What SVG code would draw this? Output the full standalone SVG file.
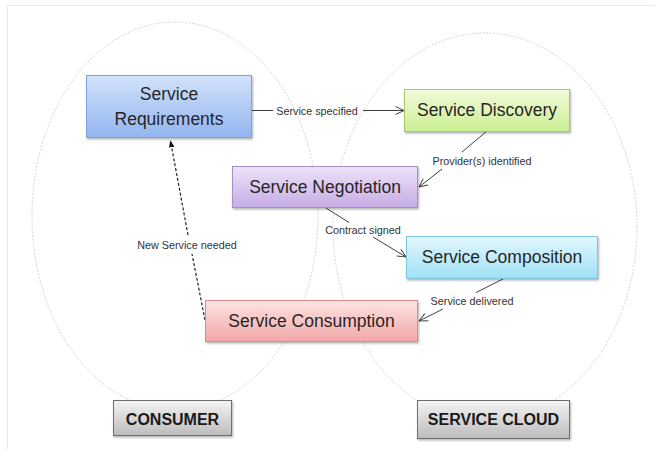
<svg xmlns="http://www.w3.org/2000/svg" width="662" height="458" viewBox="0 0 662 458">
<style>
.node text{font-family:"Liberation Sans",Arial,sans-serif;font-size:17.5px;fill:#262626;text-anchor:middle}
.tag text{font-family:"Liberation Sans",Arial,sans-serif;font-size:16px;font-weight:bold;fill:#1a1a1a;text-anchor:middle}
.lbl{font-family:"Liberation Sans",Arial,sans-serif;font-size:10.8px;fill:#333;text-anchor:middle}
.ln{stroke:#404040;stroke-width:1;fill:none}
.dash{stroke:#222;stroke-width:1.2;fill:none;stroke-dasharray:3 2}
.ell{fill:none;stroke:#c8c8c8;stroke-width:0.8;stroke-dasharray:2 1.5}
.box{stroke-width:1;filter:url(#sh)}
</style>
<defs>
<filter id="sh" x="-10%" y="-10%" width="120%" height="130%">
<feDropShadow dx="1" dy="1.5" stdDeviation="1.2" flood-color="#000" flood-opacity="0.3"/>
</filter>
<linearGradient id="gB" x1="0" y1="0" x2="0" y2="1"><stop offset="0" stop-color="#d2e2fa"/><stop offset="1" stop-color="#92b5ef"/></linearGradient>
<linearGradient id="gG" x1="0" y1="0" x2="0" y2="1"><stop offset="0" stop-color="#f2fbda"/><stop offset="1" stop-color="#caef92"/></linearGradient>
<linearGradient id="gP" x1="0" y1="0" x2="0" y2="1"><stop offset="0" stop-color="#eee3f8"/><stop offset="1" stop-color="#c6ace6"/></linearGradient>
<linearGradient id="gC" x1="0" y1="0" x2="0" y2="1"><stop offset="0" stop-color="#e2f7fd"/><stop offset="1" stop-color="#9fe1f6"/></linearGradient>
<linearGradient id="gR" x1="0" y1="0" x2="0" y2="1"><stop offset="0" stop-color="#fde3e3"/><stop offset="1" stop-color="#f3a7a7"/></linearGradient>
<linearGradient id="gK" x1="0" y1="0" x2="0" y2="1"><stop offset="0" stop-color="#f4f4f4"/><stop offset="1" stop-color="#bcbcbc"/></linearGradient>
<marker id="open" viewBox="0 0 10 10" refX="9.5" refY="5" markerWidth="10" markerHeight="10" markerUnits="userSpaceOnUse" orient="auto">
<path d="M1,1 L9.5,5 L1,9" fill="none" stroke="#404040" stroke-width="1"/>
</marker>
<marker id="solid" viewBox="0 0 10 10" refX="9" refY="5" markerWidth="7" markerHeight="7" markerUnits="userSpaceOnUse" orient="auto">
<path d="M0,1 L10,5 L0,9 Z" fill="#111"/>
</marker>
</defs>
<rect width="662" height="458" fill="#fff"/>
<path d="M7.5,449 V5.5 H655" fill="none" stroke="#e6e6e6" stroke-width="1"/>
<g id="regions">
<ellipse class="ell" cx="175" cy="216" rx="143" ry="194"/>
<ellipse class="ell" cx="485" cy="227" rx="152" ry="194"/>
</g>
<g id="connectors">
<line class="ln" x1="252" y1="110.5" x2="273" y2="110.5"/>
<line class="ln" x1="363" y1="110.5" x2="404" y2="110.5" marker-end="url(#open)"/>
<text class="lbl" x="317" y="114.5">Service specified</text>
<line class="ln" x1="487" y1="131" x2="462" y2="152"/>
<line class="ln" x1="442" y1="169" x2="419" y2="187" marker-end="url(#open)"/>
<text class="lbl" x="482" y="165">Provider(s) identified</text>
<line class="ln" x1="326" y1="208" x2="349" y2="222.5"/>
<line class="ln" x1="373" y1="237" x2="406" y2="257" marker-end="url(#open)"/>
<text class="lbl" x="363" y="233.5">Contract signed</text>
<line class="ln" x1="503" y1="279" x2="476" y2="292.5"/>
<line class="ln" x1="443" y1="309" x2="419" y2="321" marker-end="url(#open)"/>
<text class="lbl" x="472" y="304.5">Service delivered</text>
<line class="dash" x1="205" y1="320" x2="192" y2="254"/>
<line class="dash" x1="188" y1="235" x2="170.5" y2="141" marker-end="url(#solid)"/>
<text class="lbl" x="187" y="248.5">New Service needed</text>
</g>
<g id="service-requirements" class="node">
<rect class="box" x="86.5" y="75.5" width="165" height="62" fill="url(#gB)" stroke="#7ea4de"/>
<text x="169" y="99.5">Service</text>
<text x="169" y="125">Requirements</text>
</g>
<g id="service-discovery" class="node">
<rect class="box" x="404.5" y="89.5" width="165" height="42" fill="url(#gG)" stroke="#a9c56e"/>
<text x="487" y="116">Service Discovery</text>
</g>
<g id="service-negotiation" class="node">
<rect class="box" x="232.5" y="166.5" width="185" height="41" fill="url(#gP)" stroke="#a78dc9"/>
<text x="325" y="192.5">Service Negotiation</text>
</g>
<g id="service-composition" class="node">
<rect class="box" x="406.5" y="236.5" width="191" height="42" fill="url(#gC)" stroke="#7cc6de"/>
<text x="502" y="262.5">Service Composition</text>
</g>
<g id="service-consumption" class="node">
<rect class="box" x="205.5" y="300.5" width="212" height="41" fill="url(#gR)" stroke="#d98c8c"/>
<text x="311.5" y="327">Service Consumption</text>
</g>
<g id="consumer" class="tag">
<rect class="box" x="113.5" y="400.5" width="118" height="35" fill="url(#gK)" stroke="#6e6e6e"/>
<text x="172.5" y="424.5">CONSUMER</text>
</g>
<g id="service-cloud" class="tag">
<rect class="box" x="417.5" y="400.5" width="152" height="38" fill="url(#gK)" stroke="#6e6e6e"/>
<text x="493.5" y="425">SERVICE CLOUD</text>
</g>
</svg>
